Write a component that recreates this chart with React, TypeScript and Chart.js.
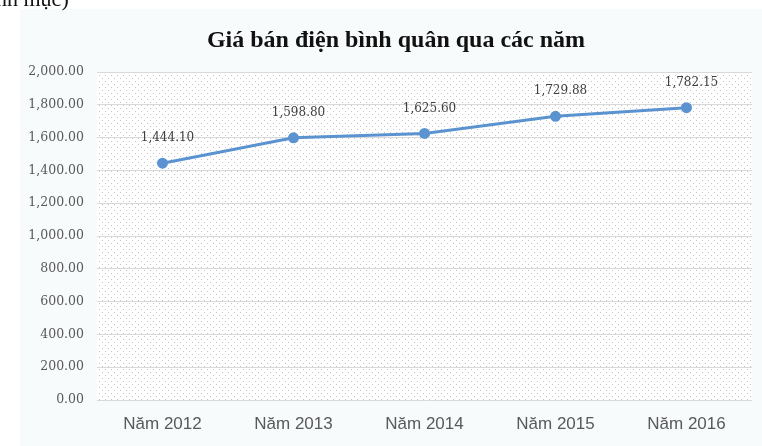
import React, { useEffect, useRef } from "react";
import { Chart, registerables } from "chart.js";

Chart.register(...registerables);

const categories = ["Năm 2012", "Năm 2013", "Năm 2014", "Năm 2015", "Năm 2016"];
const prices = [1444.1, 1598.8, 1625.6, 1729.88, 1782.15];
const title = "Giá bán điện bình quân qua các năm";
const yMin = 0;
const yMax = 2000;
const yStep = 200;

const fmt = (v: number) =>
  v.toLocaleString("en-US", { minimumFractionDigits: 2, maximumFractionDigits: 2 });

function makePattern(ctx: CanvasRenderingContext2D) {
  const c = document.createElement("canvas");
  c.width = 6;
  c.height = 6;
  const p = c.getContext("2d")!;
  p.fillStyle = "#ffffff";
  p.fillRect(0, 0, 6, 6);
  p.fillStyle = "#c4c4c4";
  p.fillRect(0, 0, 1, 1);
  p.fillRect(3, 3, 1, 1);
  return ctx.createPattern(c, "repeat")!;
}

const bgPlugin = {
  id: "bgPlugin",
  beforeDraw(chart: any) {
    const { ctx, chartArea } = chart;
    ctx.save();
    ctx.fillStyle = "#f7fbfc";
    ctx.fillRect(20, 9, chart.width - 20, chart.height - 9);
    ctx.fillStyle = makePattern(ctx);
    ctx.fillRect(chartArea.left, chartArea.top, chartArea.right - chartArea.left, chartArea.bottom - chartArea.top);
    ctx.restore();
  },
  afterDraw(chart: any) {
    const { ctx } = chart;
    ctx.save();
    ctx.fillStyle = "#111111";
    ctx.font = "bold 24px 'Liberation Serif', 'Times New Roman', serif";
    ctx.textAlign = "center";
    ctx.textBaseline = "middle";
    ctx.fillText(title, 396, 41);
    ctx.restore();
  },
  afterDatasetsDraw(chart: any) {
    const { ctx } = chart;
    const meta = chart.getDatasetMeta(0);
    ctx.save();
    ctx.fillStyle = "#404040";
    ctx.font = "12px 'DejaVu Serif', serif";
    ctx.textAlign = "center";
    ctx.textBaseline = "middle";
    meta.data.forEach((pt: any, i: number) => {
      ctx.fillText(fmt(prices[i]), pt.x + 5, pt.y - 25);
    });
    ctx.restore();
  },
};

export default function App() {
  const ref = useRef<HTMLCanvasElement>(null);
  useEffect(() => {
    const chart = new Chart(ref.current!, {
      type: "line",
      data: {
        labels: categories,
        datasets: [
          {
            data: prices,
            borderColor: "#5b93d0",
            backgroundColor: "#5b93d0",
            borderWidth: 3,
            pointRadius: 4,
            pointBackgroundColor: "#5b93d0",
            pointBorderColor: "#5b93d0",
            tension: 0,
          },
        ],
      },
      options: {
        animation: false,
        responsive: false,
        layout: { padding: { left: 20, right: 10, top: 72, bottom: 10 } },
        plugins: { legend: { display: false }, tooltip: { enabled: false }, title: { display: false } },
        scales: {
          x: {
            offset: true,
            grid: { display: false, drawTicks: false },
            border: { display: false },
            ticks: {
              padding: 14,
              color: "#595959",
              font: { family: "'Liberation Sans', Arial, sans-serif", size: 17 },
            },
            afterFit(scale: any) {
              scale.height = 36;
            },
          },
          y: {
            min: yMin,
            max: yMax,
            ticks: {
              stepSize: yStep,
              padding: 13,
              color: "#595959",
              font: { family: "'DejaVu Serif', serif", size: 12.5 },
              callback: (v: any) => fmt(Number(v)),
            },
            grid: { color: "#d9d9d9", lineWidth: 1, drawTicks: false },
            border: { display: false },
            afterFit(scale: any) {
              scale.width = 77;
            },
          },
        },
      },
      plugins: [bgPlugin],
    } as any);
    return () => chart.destroy();
  }, []);
  return (
    <div style={{ position: "fixed", left: 0, top: 0, width: 762, height: 446, background: "#fff", overflow: "hidden" }}>
      <canvas ref={ref} width={762} height={446} style={{ display: "block" }} />
      <div
        style={{
          position: "absolute",
          left: -4,
          top: -14,
          fontFamily: "'Liberation Serif', serif",
          fontSize: 22,
          color: "#111",
        }}
      >
        nh mục)
      </div>
    </div>
  );
}
